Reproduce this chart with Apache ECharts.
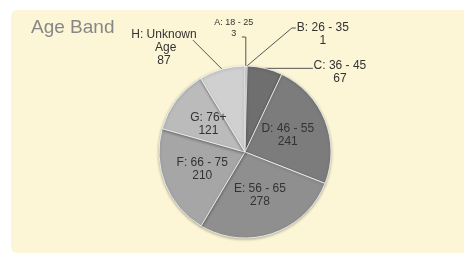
<!DOCTYPE html>
<html>
<head>
<meta charset="utf-8">
<script src="https://cdn.jsdelivr.net/npm/echarts@6/dist/echarts.min.js"></script>
<style>
  html, body { margin: 0; padding: 0; background: #ffffff; }
  #chart { width: 464px; height: 255px; }
</style>
</head>
<body>
<div id="chart"></div>
<script>
// age bands and counts
var bands = ['A: 18 - 25', 'B: 26 - 35', 'C: 36 - 45', 'D: 46 - 55', 'E: 56 - 65', 'F: 66 - 75', 'G: 76+', 'H: Unknown Age'];
var counts = [3, 1, 67, 241, 278, 210, 121, 87];
var sliceColors = ['#e2e2e2', '#5c5c5c', '#6f6f6f', '#7c7c7c', '#8f8f8f', '#a6a6a6', '#bbbbbb', '#d0d0d0'];
// which bands get an outside label with a leader line
var outsideBands = ['A: 18 - 25', 'B: 26 - 35', 'C: 36 - 45', 'H: Unknown Age'];

var chart = echarts.init(document.getElementById('chart'));

var pieData = [];
for (var i = 0; i < bands.length; i++) {
    var item = {
        name: bands[i],
        value: counts[i],
        itemStyle: { color: sliceColors[i] }
    };
    if (outsideBands.indexOf(bands[i]) >= 0) {
        item.label = {
            position: 'outside',
            fontSize: i == 0 ? 9 : 12,
            lineHeight: i == 0 ? 11 : 13,
            width: 70,
            overflow: 'break',
            distanceToLabelLine: 2
        };
        item.labelLine = { show: true, length: 10, length2: 10 };
    }
    pieData.push(item);
}

// leader lines are drawn excel-style: from the slice edge straight to the label
function placeLabel(p) {
    if (!p.labelLinePoints) return;
    var p0 = p.labelLinePoints[0];
    var name = bands[p.dataIndex];
    if (name == 'A: 18 - 25') {
        var a1 = [p0[0], p0[1] - 29];
        return {
            x: p0[0] - 12, y: p0[1] - 38, align: 'center', verticalAlign: 'middle',
            labelLinePoints: [p0, a1, [a1[0] - 4, a1[1]]]
        };
    }
    if (name == 'B: 26 - 35') {
        var b1 = [p0[0] + 45, p0[1] - 38];
        return {
            x: p0[0] + 76, y: p0[1] - 32, align: 'center', verticalAlign: 'middle',
            labelLinePoints: [p0, b1, [b1[0] + 4, b1[1]]]
        };
    }
    if (name == 'C: 36 - 45') {
        var c1 = [p0[0] + 48, p0[1]];
        return {
            x: c1[0] + 27, y: c1[1] + 4, align: 'center', verticalAlign: 'middle',
            labelLinePoints: [p0, [p0[0] + 1, p0[1]], c1]
        };
    }
    if (name == 'H: Unknown Age') {
        var h1 = [p0[0] - 29, p0[1] - 29];
        return {
            x: p0[0] - 58, y: p0[1] - 21, align: 'center', verticalAlign: 'middle',
            labelLinePoints: [p0, h1, h1]
        };
    }
}

var option = {
    animation: false,
    graphic: [{
        type: 'rect',
        left: 11,
        top: 10,
        shape: { width: 470, height: 243, r: 6 },
        style: { fill: '#fcf6d6' },
        z: -10
    }],
    title: {
        text: 'Age Band',
        left: 26,
        top: 13,
        textStyle: {
            fontFamily: 'Liberation Sans',
            fontSize: 19,
            fontWeight: 'normal',
            color: '#878787'
        }
    },
    series: [{
        type: 'pie',
        center: [245, 152],
        radius: 86,
        startAngle: 90,
        clockwise: true,
        avoidLabelOverlap: false,
        itemStyle: {
            borderColor: 'rgba(255,255,255,0.75)',
            borderWidth: 1,
            shadowColor: 'rgba(0,0,0,0.3)',
            shadowBlur: 3,
            shadowOffsetY: 1
        },
        label: {
            position: 'inside',
            formatter: '{b}\n{c}',
            fontFamily: 'Liberation Sans',
            fontSize: 12,
            lineHeight: 13,
            color: '#333333'
        },
        labelLine: {
            show: false,
            lineStyle: { color: '#555555', width: 1 }
        },
        labelLayout: placeLabel,
        emphasis: { disabled: true },
        data: pieData
    }]
};

chart.setOption(option);
</script>
</body>
</html>
